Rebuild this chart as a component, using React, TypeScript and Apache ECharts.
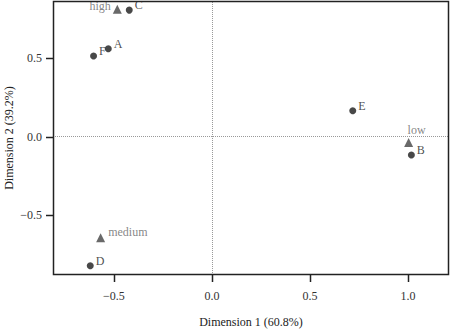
import React, { useEffect, useRef } from "react";
import * as echarts from "echarts";

const rowNames = ["A", "B", "C", "D", "E", "F"];
const rowX = [-0.529, 1.017, -0.422, -0.621, 0.718, -0.604];
const rowY = [0.559, -0.116, 0.805, -0.82, 0.165, 0.513];

const colNames = ["high", "low", "medium"];
const colX = [-0.483, 1.003, -0.568];
const colY = [0.81, -0.036, -0.642];

const xTicks = [-0.5, 0, 0.5, 1.0];
const yTicks = [-0.5, 0, 0.5];

const X_MIN = -0.811;
const X_MAX = 1.209;
const Y_MIN = -0.879;
const Y_MAX = 0.863;

const FONT = "'Liberation Serif', 'DejaVu Serif', serif";

const fmt = (v: number) => {
  const s = Math.abs(v).toFixed(1);
  return v < 0 ? "\u2212" + s : s;
};

const colLabelStyle: Record<string, any> = {
  high: { position: "left", distance: 2, offset: [0, -3] },
  low: { position: "top", distance: 2, offset: [8, 0] },
  medium: { position: "right", distance: 3, offset: [0, -6] },
};

export default function App() {
  const ref = useRef<HTMLDivElement>(null);
  useEffect(() => {
    if (!ref.current) return;
    const chart = echarts.init(ref.current, null, { renderer: "svg" });
    const axisCommon = {
      type: "value",
      nameLocation: "middle",
      nameMoveOverlap: false,
      nameTextStyle: { fontFamily: FONT, fontSize: 12, color: "#222" },
      axisLine: { show: false, onZero: false },
      axisTick: { show: false },
      splitLine: { show: false },
    };
    const tickLen = 6;
    const tickData = [
      ...xTicks.map((v) => [v, Y_MIN, 0]),
      ...yTicks.map((v) => [X_MIN, v, 1]),
    ];
    chart.setOption({
      animation: false,
      grid: {
        left: 53,
        right: 1,
        top: 1,
        bottom: 55,
        containLabel: false,
        outerBoundsMode: "none",
      },
      graphic: [
        {
          type: "rect",
          z: 100,
          silent: true,
          shape: { x: 53.5, y: 1.5, width: 395, height: 273 },
          style: { fill: "none", stroke: "#222", lineWidth: 1.5 },
        },
      ],
      xAxis: {
        ...axisCommon,
        min: X_MIN,
        max: X_MAX,
        name: "Dimension 1 (60.8%)",
        nameGap: 41,
        axisLabel: {
          customValues: xTicks,
          formatter: (v: number) => fmt(v),
          fontFamily: FONT,
          fontSize: 12,
          color: "#333",
          margin: 15,
        },
      },
      yAxis: {
        ...axisCommon,
        min: Y_MIN,
        max: Y_MAX,
        name: "Dimension 2 (39.2%)",
        nameGap: 38,
        axisLabel: {
          customValues: yTicks,
          formatter: (v: number) => fmt(v),
          fontFamily: FONT,
          fontSize: 12,
          color: "#333",
          margin: 11,
        },
      },
      series: [
        {
          type: "custom",
          name: "ticks",
          clip: false,
          silent: true,
          data: tickData,
          encode: { x: 0, y: 1 },
          renderItem: (params: any, api: any) => {
            const p = api.coord([api.value(0), api.value(1)]);
            const kind = api.value(2);
            if (kind === 0) {
              const x = Math.round(p[0]) + 0.5;
              return {
                type: "line",
                z2: 100,
                shape: { x1: x, y1: p[1], x2: x, y2: p[1] + tickLen + 1 },
                style: { stroke: "#222", lineWidth: 1.5 },
              };
            }
            const y = Math.round(p[1]) + 0.5;
            return {
              type: "line",
              z2: 100,
              shape: { x1: p[0] - tickLen - 1, y1: y, x2: p[0], y2: y },
              style: { stroke: "#222", lineWidth: 1.5 },
            };
          },
        },
        {
          type: "scatter",
          name: "rows",
          symbol: "circle",
          symbolSize: 7,
          itemStyle: { color: "#1a1a1a" },
          label: {
            show: true,
            formatter: (p: any) => p.data.name,
            position: "right",
            distance: 2,
            offset: [0, -5],
            fontFamily: FONT,
            fontSize: 12,
            color: "#222",
          },
          data: rowNames.map((n, i) => ({ name: n, value: [rowX[i], rowY[i]] })),
          markLine: {
            silent: true,
            symbol: "none",
            label: { show: false },
            lineStyle: { type: "dotted", color: "#999", width: 1 },
            data: [{ xAxis: 0 }, { yAxis: 0 }],
          },
        },
        {
          type: "scatter",
          name: "cols",
          symbol: "triangle",
          symbolSize: 9,
          itemStyle: { color: "#444" },
          label: {
            show: true,
            formatter: (p: any) => p.data.name,
            fontFamily: FONT,
            fontSize: 12,
            color: "#666",
          },
          data: colNames.map((n, i) => ({
            name: n,
            value: [colX[i], colY[i]],
            label: colLabelStyle[n],
          })),
        },
      ],
    });
    return () => chart.dispose();
  }, []);
  return (
    <div
      ref={ref}
      style={{ position: "absolute", left: 0, top: 0, width: 450, height: 330 }}
    />
  );
}
